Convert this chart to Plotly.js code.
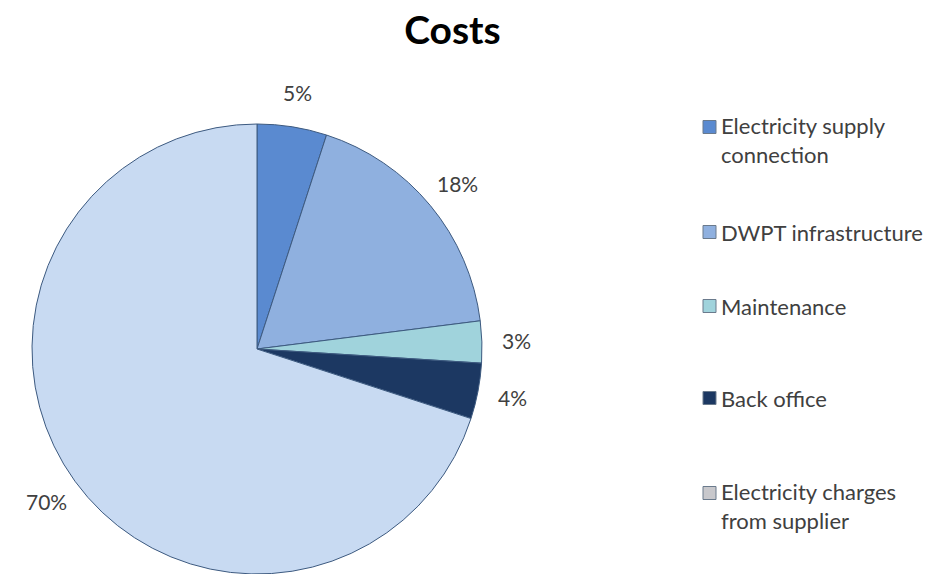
<!DOCTYPE html>
<html>
<head>
<meta charset="utf-8">
<script src="https://cdn.plot.ly/plotly-3.0.1.min.js"></script>
<style>html,body{margin:0;padding:0;background:#fff;}#chart{width:929px;height:574px;}</style>
</head>
<body>
<div id="chart"></div>
<script>
const categories = ["Electricity supply connection", "DWPT infrastructure", "Maintenance", "Back office", "Electricity charges from supplier"];
const legendLabels = ["Electricity supply<br>connection", "DWPT infrastructure", "Maintenance", "Back office", "Electricity charges<br>from supplier"];
const values = [5, 18, 3, 4, 70];
const colors = ["#5a8ad0", "#8fb0df", "#a0d3dc", "#1c3862", "#c8daf2"];
const legendColors = ["#5a8ad0", "#8fb0df", "#a0d3dc", "#1c3862", "#c8c8cc"];
const legendY = [140, 232, 306, 398, 506];

const W = 929, H = 574;
const CX = 257, CY = 349, R = 225, LABEL_R = 260;
const FONT = "Lato, 'Open Sans', sans-serif";

const trace = {
  type: "pie",
  labels: categories,
  values: values,
  sort: false,
  direction: "clockwise",
  rotation: 0,
  marker: {colors: colors, line: {color: "#3d5a80", width: 1}},
  textinfo: "none",
  automargin: false,
  showlegend: false,
  hoverinfo: "label+percent",
  domain: {x: [(CX - R) / W, (CX + R) / W], y: [0, 1]}
};

const annotations = [];
const shapes = [];

// percentage labels placed outside each slice, at the slice's mid-angle
const total = values.reduce((a, b) => a + b, 0);
let cum = 0;
values.forEach((v) => {
  const mid = (cum + v / 2) / total * 2 * Math.PI;
  cum += v;
  const px = CX + LABEL_R * Math.sin(mid);
  const py = CY - LABEL_R * Math.cos(mid);
  annotations.push({
    xref: "paper", yref: "paper",
    x: px / W, y: 1 - (py - 124) / 450,
    xanchor: "center", yanchor: "middle",
    text: Math.round(v / total * 100) + "%", showarrow: false,
    font: {family: FONT, size: 21, color: "#404040"}
  });
});

legendLabels.forEach((lab, i) => {
  const yc = legendY[i];
  annotations.push({
    xref: "paper", yref: "paper",
    x: 719 / W, y: 1 - (yc - 124) / 450,
    xanchor: "left", yanchor: "middle",
    text: lab, showarrow: false, align: "left",
    font: {family: FONT, size: 22, color: "#404040"}
  });
  const ySq = legendLabels[i].includes("<br>") ? yc - 13 : yc;
  shapes.push({
    type: "rect", xref: "paper", yref: "paper",
    x0: 703 / W, x1: 716 / W,
    y0: 1 - (ySq - 124 + 6.5) / 450, y1: 1 - (ySq - 124 - 6.5) / 450,
    fillcolor: legendColors[i], line: {color: "#6a7a8c", width: 1}
  });
});

const layout = {
  width: W, height: H,
  margin: {l: 0, r: 0, t: 124, b: 0},
  paper_bgcolor: "#ffffff",
  title: {text: "<b>Costs</b>", x: 0.487, xanchor: "center", y: 1 - 30 / H, yanchor: "middle",
          font: {family: FONT, size: 39, color: "#000000"}},
  showlegend: false,
  annotations: annotations,
  shapes: shapes
};

Plotly.newPlot("chart", [trace], layout, {displayModeBar: false, staticPlot: true});
</script>
</body>
</html>
